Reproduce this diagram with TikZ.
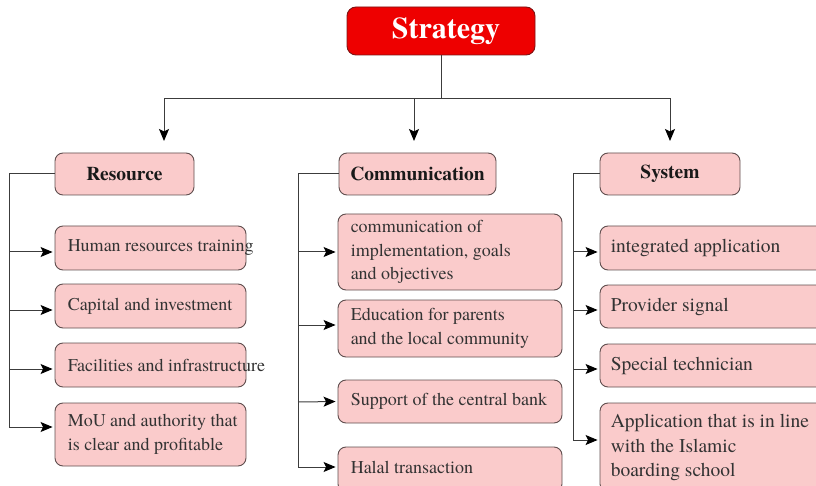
\documentclass[tikz,border=0pt]{standalone}
\usepackage{fontspec}
\setmainfont{texgyretermes}[Extension=.otf, UprightFont=*-regular, BoldFont=*-bold, ItalicFont=*-italic, BoldItalicFont=*-bolditalic]
\usetikzlibrary{arrows.meta}
\definecolor{pinkfill}{RGB}{250,203,203}
\definecolor{pinkline}{RGB}{95,78,78}
\definecolor{redfill}{RGB}{238,0,0}
\definecolor{redline}{RGB}{125,20,20}
\definecolor{linegray}{RGB}{60,60,60}
\begin{document}
\begin{tikzpicture}[x=1pt,y=-1pt,
  tip/.style={-{Stealth[length=12pt,width=10pt,inset=2.5pt,black]}},
  box/.style={draw=pinkline, fill=pinkfill, rounded corners=8pt, line width=0.9pt, inner sep=0pt},
  hdr/.style={box, minimum height=42pt, font=\fontsize{19.5}{23}\selectfont\bfseries, text=black!90},
  txt/.style={anchor=west, inner sep=0pt, align=left, font=\fontsize{18}{23.5}\selectfont, text=black!80},
  stxt/.style={txt, font=\fontsize{19.5}{24.5}\selectfont},
  conn/.style={line width=1pt, draw=linegray},
  arr/.style={conn, tip, shorten >=2pt}]
\useasboundingbox (0,0) rectangle (816,486);
\clip (0,0) rectangle (816,486);

% top
\node[draw=redline, fill=redfill, rounded corners=9pt, line width=0.9pt, minimum width=188pt, minimum height=48pt,
  text=white, font=\fontsize{30}{36}\selectfont\bfseries] (S) at (441,31) {\hspace*{10pt}Strategy};

\node[hdr, minimum width=139pt] (R) at (124.5,174) {Resource};
\node[hdr, minimum width=157pt] (C) at (417.5,174) {Communication};
\node[hdr, minimum width=140pt] (Y) at (670,174) {System};

\coordinate (j) at (441,99);
\coordinate (aR) at (164,141);
\coordinate (aC) at (414,141);
\coordinate (aY) at (670,141);
\draw[conn] (S.south) -- (j);
\draw[conn, tip] (j) -| (aR);
\draw[conn, tip] (j) -| (aC);
\draw[conn, tip] (j) -| (aY);

% Resource column
\node[box, minimum width=191pt, minimum height=44pt] (r1) at (150.5,248) {};
\node[box, minimum width=191pt, minimum height=44pt] (r2) at (150.5,306) {};
\node[box, minimum width=191pt, minimum height=44pt] (r3) at (150.5,365) {};
\node[box, minimum width=191pt, minimum height=63pt] (r4) at (150.5,434.5) {};
\node[txt] (r1t) at ([xshift=13pt]r1.west) {Human resources training};
\node[txt] (r2t) at ([xshift=13pt]r2.west) {Capital and investment};
\node[txt] (r3t) at ([xshift=13pt]r3.west) {Facilities and infrastructure};
\node[txt] (r4t) at ([xshift=13pt]r4.west) {MoU and authority that\\is clear and profitable};

\coordinate (rs) at (9,427);
\draw[conn] (R.west) -| (rs);
\draw[arr] (rs |- 0,252) -- ([yshift=-4pt]r1.west);
\draw[arr] (rs |- 0,310) -- ([yshift=-4pt]r2.west);
\draw[arr] (rs |- 0,369) -- ([yshift=-4pt]r3.west);
\draw[arr] (rs) -- ([yshift=7.5pt]r4.west);

% Communication column
\node[box, minimum width=224pt, minimum height=76pt] (c1) at (450,252) {};
\node[box, minimum width=224pt, minimum height=57pt] (c2) at (450,328.5) {};
\node[box, minimum width=224pt, minimum height=43pt] (c3) at (450,401.5) {};
\node[box, minimum width=224pt, minimum height=45pt] (c4) at (450,469.5) {};
\node[txt] (c1t) at ([xshift=13pt]c1.west) {communication of\\implementation, goals\\and objectives};
\node[txt] (c2t) at ([xshift=13pt]c2.west) {Education for parents\\and the local community};
\node[txt] (c3t) at ([xshift=13pt]c3.west) {Support of the central bank};
\node[txt] (c4t) at ([xshift=13pt,yshift=2pt]c4.west) {Halal transaction};

\coordinate (cs) at (298,467);
\draw[conn] (C.west) -| (cs);
\draw[arr] (cs |- 0,252) -- (c1.west);
\draw[arr] (cs |- 0,325) -- ([yshift=3.5pt]c2.west);
\draw[arr] (cs |- 0,402) -- (c3.west);
\draw[arr] (cs) -- ([yshift=2.5pt]c4.west);

% System column
\node[box, minimum width=232pt, minimum height=44pt] (y1) at (716,248) {};
\node[box, minimum width=232pt, minimum height=43pt] (y2) at (716,306.5) {};
\node[box, minimum width=232pt, minimum height=43pt] (y3) at (716,365.5) {};
\node[box, minimum width=232pt, minimum height=89pt] (y4) at (716,447.5) {};
\node[stxt] (y1t) at ([xshift=11pt]y1.west) {integrated application};
\node[stxt] (y2t) at ([xshift=11pt]y2.west) {Provider signal};
\node[stxt] (y3t) at ([xshift=11pt]y3.west) {Special technician};
\node[stxt] (y4t) at ([xshift=11pt]y4.west) {Application that is in line\\with the Islamic\\boarding school};

\coordinate (ys) at (573,440);
\draw[conn] (Y.west) -| (ys);
\draw[arr] (ys |- 0,252) -- ([yshift=-4pt]y1.west);
\draw[arr] (ys |- 0,310) -- ([yshift=-3.5pt]y2.west);
\draw[arr] (ys |- 0,369) -- ([yshift=-3.5pt]y3.west);
\draw[arr] (ys) -- ([yshift=7.5pt]y4.west);
\end{tikzpicture}
\end{document}
